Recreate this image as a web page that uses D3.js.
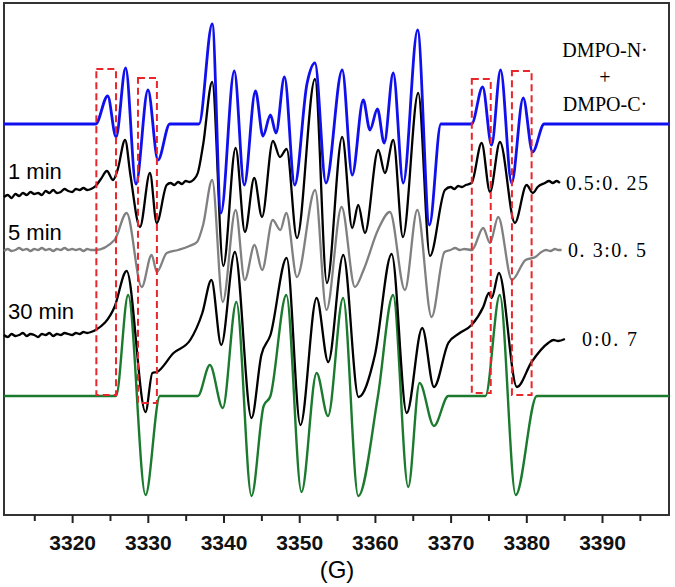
<!DOCTYPE html>
<html>
<head>
<meta charset="utf-8">
<script src="https://cdn.jsdelivr.net/npm/d3@7"></script>
<style>
html, body { margin: 0; padding: 0; background: #fff; }
svg { display: block; }
</style>
</head>
<body>
<svg id="chart" width="675" height="587"></svg>
<script>
// magnetic field range (G) and ticks
var fieldRange = [3311, 3398.85];
var majorTicks = [3320, 3330, 3340, 3350, 3360, 3370, 3380, 3390];
var minorTicks = [3315, 3325, 3335, 3345, 3355, 3365, 3375, 3385, 3395];

// spectra: [field, intensity] relative to each trace's own baseline
var simNC = [
    [3311, 0], [3323.1, 0], [3324.7, 28], [3325.8, -13], [3327.07, 56], [3328.43, -60],
    [3330.02, 34], [3331.34, -36], [3332.9, 0], [3336.76, 0], [3338.51, 100], [3339.66, -89],
    [3341.42, 53], [3342.74, -61], [3344.22, 33], [3345.21, -12], [3346.2, 9], [3346.93, -9],
    [3348.05, 47], [3349.4, -61], [3351.02, 40], [3352.08, 61], [3353.53, -59], [3355.68, 54],
    [3357.0, -51], [3358.46, 24], [3359.34, -6], [3360.33, 15], [3361.23, -19], [3362.42, 51],
    [3363.74, -59], [3365.64, 94], [3367.2, -101], [3368.72, 0], [3372.77, 0], [3374.23, 37],
    [3375.41, -21], [3376.6, 54], [3378.06, -59], [3379.59, 26], [3380.83, -28], [3382.36, 0],
    [3398.85, 0]
];
var min1 = [
    [3311, -2], [3311.5, 0], [3312, -3], [3312.5, 1], [3313, -1], [3313.5, 2], [3314, 0],
    [3314.5, 3], [3315, 1], [3315.5, 2], [3316, 0], [3316.5, 4], [3317, 2], [3317.5, 5],
    [3318, 2], [3318.5, 3], [3319, 6], [3319.5, 4], [3320, 3], [3320.5, 6], [3321, 5],
    [3321.5, 7], [3322, 5], [3322.5, 6], [3323.1, 9], [3323.8, 16], [3324.6, 24], [3325.4, 15],
    [3326.0, 25], [3327.0, 55], [3327.7, 20], [3328.96, -32], [3330.28, 22], [3331.17, -28],
    [3332.49, 10], [3333.0, 12], [3333.5, 10], [3334.0, 13], [3334.5, 11], [3335.0, 14],
    [3335.5, 13], [3336.0, 15], [3336.6, 22], [3337.3, 50], [3338.5, 113], [3339.97, -71],
    [3341.6, 47], [3342.83, -37], [3344.06, 17], [3345.08, -22], [3346.53, 54], [3347.45, 38],
    [3348.34, 46], [3349.7, -43], [3352.08, 116], [3353.66, -88], [3355.68, 58], [3357.0, -33],
    [3357.8, -10], [3358.68, -38], [3360.44, 45], [3361.32, 22], [3362.42, 55], [3363.7, -42],
    [3365.72, 102], [3367.27, -61], [3369.25, 5], [3370, 8], [3370.5, 6], [3371, 9],
    [3371.5, 8], [3372, 10], [3372.77, 12], [3374.1, 52], [3375.2, 3], [3376.52, 53],
    [3378.49, -28], [3380.04, 10], [3380.87, 2], [3381.5, 8], [3382.45, 12], [3383, 14],
    [3383.5, 12], [3384, 14], [3384.44, 12]
];
var min5 = [
    [3311, -1], [3311.5, 1], [3312, -1], [3312.5, 0], [3313, 2], [3313.5, 0], [3314, 1],
    [3314.5, -1], [3315, 1], [3315.5, 0], [3316, 2], [3316.5, 0], [3317, 1], [3317.5, -1],
    [3318, 1], [3318.5, 0], [3319, 2], [3319.5, 0], [3320, 1], [3320.5, 0], [3321, 1],
    [3321.5, -1], [3322, 1], [3322.5, 0], [3323.1, 0], [3325.6, 10], [3327.2, 37],
    [3329.2, -37], [3330.5, -5], [3331.2, -22], [3332.5, -3], [3334, 0], [3335.5, 4],
    [3336.5, 8], [3337.3, 25], [3338.5, 70], [3339.9, -52], [3341.6, 40], [3342.8, -30],
    [3344.1, 5], [3345.1, -20], [3346.5, 30], [3347.5, 20], [3348.3, 37], [3349.7, -27],
    [3352.1, 60], [3353.6, -60], [3355.6, 43], [3357.36, -37], [3358.5, -20], [3360.4, 20],
    [3361.98, 38], [3363.96, -40], [3365.6, 40], [3367.49, -67], [3369.2, -2], [3370, 0],
    [3370.6, 2], [3371.2, 0], [3371.8, 1], [3372.8, 0], [3374.31, 22], [3375.2, 7],
    [3376.29, 33], [3378.1, -30], [3379.9, -10], [3381.2, -7], [3382, -2], [3382.6, 0],
    [3383.2, -1], [3383.8, 1], [3384.2, 0], [3384.66, 0]
];
var min30 = [
    [3311, 0], [3311.5, -2], [3312, 1], [3312.5, -1], [3313, 0], [3313.5, 2], [3314, -1],
    [3314.5, 1], [3315, 0], [3315.5, -2], [3316, 1], [3316.5, 0], [3317, 2], [3317.5, -1],
    [3318, 1], [3318.5, 0], [3319, 2], [3319.5, 1], [3320, 0], [3320.5, 2], [3321, 1],
    [3321.5, 3], [3322, 2], [3322.5, 3], [3323.1, 5], [3325.6, 28], [3327.2, 64],
    [3329.7, -77], [3330.6, -38], [3331.2, -37], [3333.4, -18], [3335.6, -5], [3337.2, 22],
    [3338.4, 55], [3339.7, -10], [3341.5, 83], [3343.7, -83], [3345.0, -20], [3346.2, 0],
    [3348.34, 77], [3350.16, -90], [3352.3, 37], [3353.83, -27], [3355.82, 80],
    [3357.84, -62], [3360.0, -20], [3362.21, 81], [3364.2, -78], [3366.25, 7], [3367.8, -52],
    [3369.69, -8], [3371.2, 2], [3372.77, 10], [3374.31, 28], [3375.06, 42], [3375.42, 37],
    [3376.38, 62], [3378.76, -52], [3380.7, -27], [3382.89, -8], [3383.6, -5], [3384.2, -6],
    [3385.1, -4]
];
var simC = [
    [3311, 0], [3325.8, 0], [3327.4, 101], [3329.7, -99], [3331.6, 0], [3336.6, 0],
    [3338.2, 31], [3339.9, -12], [3341.7, 94], [3343.7, -100], [3345.3, -10], [3346.2, 0],
    [3348.3, 101], [3350.3, -96], [3352.3, 23], [3353.8, -20], [3355.8, 98], [3357.8, -100],
    [3360.4, 0], [3362.4, 101], [3364.4, -91], [3365.9, 13], [3367.8, -30], [3369.7, 0],
    [3374.6, 0], [3376.5, 101], [3378.6, -99], [3381.4, 0], [3398.85, 0]
];

var traces = [simNC, min1, min5, min30, simC];
var traceOffsets = [391, 320, 265, 180, 119];
var traceColors = ['#1010ee', '#000000', '#808080', '#000000', '#1b7a2e'];
var traceWidths = [2.8, 2.3, 2.3, 2.3, 2.4];

var timeLabels = ['1 min', '5 min', '30 min'];
var ratioLabels = ['0.5:0. 25', '0. 3:0. 5', '0:0. 7'];
var legendLines = ['DMPO-N·', '+', 'DMPO-C·'];

// dashed boxes: [field start, field end, top, bottom] in intensity units
var boxes = [
    [3323.2, 3325.8, 446, 120],
    [3328.7, 3331.2, 437, 112],
    [3372.8, 3375.3, 436, 122],
    [3378.1, 3380.7, 444, 120]
];

function drawChart() {
    var svg = d3.select('#chart');
    var pl = 4, pr = 669, pt = 3, pb = 515;

    var x = d3.scaleLinear().domain(fieldRange).range([pl, pr]);
    var y = d3.scaleLinear().domain([0, pb - pt]).range([pb, pt]);

    // frame
    svg.append('rect')
        .attr('x', pl).attr('y', pt)
        .attr('width', pr - pl).attr('height', pb - pt)
        .attr('fill', 'none').attr('stroke', '#333').attr('stroke-width', 2);

    // spectra, drawn bottom to top so the blue sits over the rest
    [4, 3, 2, 1, 0].forEach(function (k) {
        var off = traceOffsets[k];
        var line = d3.line().curve(d3.curveMonotoneX)
            .x(d => x(d[0])).y(d => y(d[1] + off));
        svg.append('path')
            .attr('d', line(traces[k]))
            .attr('fill', 'none')
            .attr('stroke', traceColors[k])
            .attr('stroke-width', traceWidths[k])
            .attr('stroke-linejoin', 'round');
    });

    // red dashed boxes
    svg.selectAll('rect.box').data(boxes).enter().append('rect')
        .attr('class', 'box')
        .attr('x', d => x(d[0]))
        .attr('y', d => y(d[2]))
        .attr('width', d => x(d[1]) - x(d[0]))
        .attr('height', d => y(d[3]) - y(d[2]))
        .attr('fill', 'none')
        .attr('stroke', '#e8262b')
        .attr('stroke-width', 2)
        .attr('stroke-dasharray', '7,4');

    // x axis with major and minor ticks
    var axisMajor = d3.axisBottom(x).tickValues(majorTicks).tickSize(8).tickPadding(12)
        .tickFormat(d3.format('d'));
    var gx = svg.append('g').attr('transform', 'translate(0,' + pb + ')').call(axisMajor);
    gx.select('.domain').remove();
    gx.selectAll('line').attr('stroke', '#222').attr('stroke-width', 2);
    gx.selectAll('text')
        .attr('fill', '#111')
        .style('font-family', 'Liberation Sans, Arial, sans-serif')
        .style('font-size', '21px')
        .style('font-weight', 'bold');

    var gm = svg.append('g').attr('transform', 'translate(0,' + pb + ')')
        .call(d3.axisBottom(x).tickValues(minorTicks).tickSize(6).tickFormat(''));
    gm.select('.domain').remove();
    gm.selectAll('line').attr('stroke', '#222').attr('stroke-width', 2);

    svg.append('text')
        .attr('x', 337).attr('y', 578)
        .attr('text-anchor', 'middle')
        .style('font-family', 'Liberation Sans, Arial, sans-serif')
        .style('font-size', '24px')
        .text('(G)');

    // time labels on the left of the measured spectra
    var timeDy = [-16, -10, -16];
    timeLabels.forEach(function (t, i) {
        svg.append('text')
            .attr('x', 8)
            .attr('y', y(traceOffsets[i + 1]) + timeDy[i])
            .style('font-family', 'Liberation Sans, Arial, sans-serif')
            .style('font-size', '22px')
            .text(t);
    });

    // ratio labels after each measured spectrum
    var ratioX = [566, 568, 582];
    var ratioW = [82, 78, 55];
    ratioLabels.forEach(function (t, i) {
        var tr = traces[i + 1], last = tr[tr.length - 1];
        svg.append('text')
            .attr('x', ratioX[i])
            .attr('y', y(last[1] + traceOffsets[i + 1]) + 7)
            .attr('textLength', ratioW[i])
            .attr('lengthAdjust', 'spacing')
            .style('font-family', 'Liberation Serif, Times New Roman, serif')
            .style('font-size', '20px')
            .text(t);
    });

    // legend for the simulated spectrum
    var legendY = [57, 84, 111];
    legendLines.forEach(function (t, i) {
        svg.append('text')
            .attr('x', 605).attr('y', legendY[i])
            .attr('text-anchor', 'middle')
            .style('font-family', 'Liberation Serif, Times New Roman, serif')
            .style('font-size', '20px')
            .text(t);
    });
}

drawChart();
</script>
</body>
</html>
